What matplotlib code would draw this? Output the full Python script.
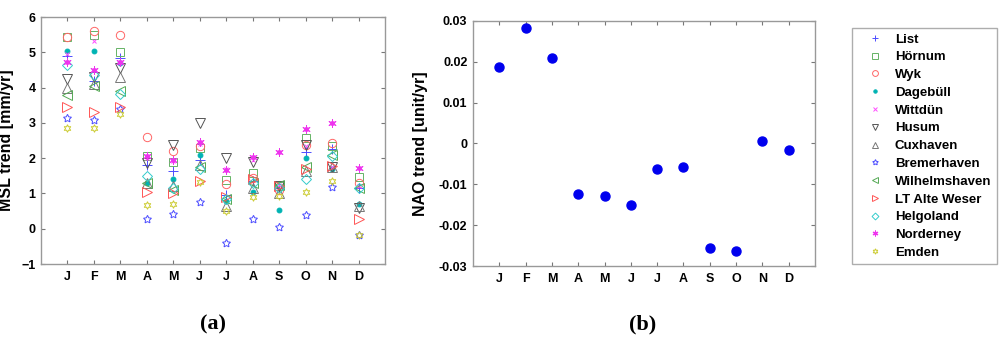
import numpy as np
import matplotlib.pyplot as plt
from matplotlib.legend_handler import HandlerTuple

plt.rcParams['font.family'] = ['Liberation Sans', 'DejaVu Sans']
plt.rcParams['font.weight'] = 'bold'

months = ['J', 'F', 'M', 'A', 'M', 'J', 'J', 'A', 'S', 'O', 'N', 'D']
x = np.arange(1, 13)

# MSL trends per station [mm/yr]
msl_list = [4.9, 4.2, 4.85, 1.8, 1.64, 1.95, 0.95, 1.35, 1.15, 2.18, 2.25, 1.15]
msl_hoernum = [5.45, 5.5, 5.02, 2.05, 1.9, 2.3, 1.38, 1.59, 1.2, 2.56, 2.35, 1.47]
msl_wyk = [5.45, 5.62, 5.5, 2.59, 2.21, 2.35, 1.27, 1.43, 1.1, 2.38, 2.42, 1.29]
msl_dagebuell = [5.05, 5.05, 4.7, 1.3, 1.4, 2.1, 0.8, 1.05, 0.53, 2.01, 1.68, 0.69]
msl_wittduen = [4.95, 5.33, 4.7, 2.0, 1.92, 2.4, 1.7, 1.95, 1.25, 2.35, 1.75, 1.2]
msl_husum = [4.25, 4.3, 4.55, 1.85, 2.37, 3.0, 2.0, 1.88, 1.2, 2.37, 1.75, 0.58]
msl_cuxhaven = [4.0, 4.1, 4.3, 1.3, 1.2, 1.8, 0.64, 1.15, 1.0, 1.65, 1.75, 0.65]
msl_bremerhaven = [3.15, 3.08, 3.4, 0.29, 0.41, 0.77, -0.41, 0.29, 0.04, 0.39, 1.17, -0.18]
msl_wilhelmshaven = [3.8, 4.05, 3.9, 1.3, 1.1, 1.75, 0.85, 1.3, 1.25, 1.76, 2.09, 1.15]
msl_ltaltewester = [3.45, 3.3, 3.45, 1.05, 1.0, 1.35, 0.9, 1.4, 1.2, 1.7, 1.78, 0.29]
msl_helgoland = [4.65, 4.35, 3.82, 1.5, 1.15, 1.7, 0.85, 1.3, 1.15, 1.4, 2.05, 1.15]
msl_norderney = [4.72, 4.5, 4.72, 2.05, 1.95, 2.47, 1.66, 2.04, 2.18, 2.84, 3.0, 1.71]
msl_emden = [2.87, 2.87, 3.25, 0.67, 0.7, 1.33, 0.5, 0.91, 0.92, 1.05, 1.35, -0.18]

# NAO trend [unit/yr], panel (b)
nao = [0.0188, 0.0283, 0.021, -0.0123, -0.0128, -0.015,
       -0.0063, -0.0058, -0.0255, -0.0262, 0.0007, -0.0015]

stations = ['List', 'Hörnum', 'Wyk', 'Dagebüll', 'Wittdün', 'Husum', 'Cuxhaven',
            'Bremerhaven', 'Wilhelmshaven', 'LT Alte Weser', 'Helgoland',
            'Norderney', 'Emden']
series = [msl_list, msl_hoernum, msl_wyk, msl_dagebuell, msl_wittduen, msl_husum,
          msl_cuxhaven, msl_bremerhaven, msl_wilhelmshaven, msl_ltaltewester,
          msl_helgoland, msl_norderney, msl_emden]

# marker, color, size, filled
styles = [
    ('+', '#4d4dff', 7, False),
    ('s', '#66b366', 6, False),
    ('o', '#ff6666', 6, False),
    ('o', '#00b3b3', 3.5, True),
    ('x', '#ff4dff', 3.5, False),
    ('v', '#555555', 7, False),
    ('^', '#777777', 7, False),
    ((5, 1, 0), '#4d4dff', 6, False),
    ('<', '#55aa55', 7, False),
    ('>', '#ff5555', 7, False),
    ('D', '#33cccc', 5, False),
    ((6, 2, 0), '#ee33ee', 6, False),
    ((6, 1, 0), '#cccc33', 5.5, False),
]

fig = plt.figure(figsize=(10, 3.42), dpi=100)
ax1 = fig.add_axes([0.041, 0.228, 0.344, 0.722])
ax2 = fig.add_axes([0.473, 0.222, 0.342, 0.717])

handles = []
for name, vals, (m, c, s, filled) in zip(stations, series, styles):
    h, = ax1.plot(x, vals, linestyle='none', marker=m, color=c, markersize=s,
                  markerfacecolor=c if filled else 'none', markeredgewidth=0.7)
    if name == 'Norderney':
        d, = ax1.plot(x, vals, linestyle='none', marker='o', color=c, markersize=2.5)
        handles.append((h, d))
    else:
        handles.append(h)

ax2.plot(x, nao, linestyle='none', marker='o', color='#0000ee', markersize=6.5)

for ax in (ax1, ax2):
    ax.set_xlim(0, 13)
    ax.set_xticks(x)
    ax.set_xticklabels(months)
    ax.tick_params(direction='in', top=True, right=True, length=3, width=0.8,
                   color='#777777', labelsize=9)
    ax.tick_params(axis='x', pad=5)
    ax.tick_params(axis='y', pad=4)
    for sp in ax.spines.values():
        sp.set_color('#999999')
        sp.set_linewidth(1.0)

ax1.set_ylim(-1, 6)
ax1.set_yticks(range(-1, 7))
ax1.set_ylabel('MSL trend [mm/yr]', fontsize=11.5, fontweight='bold')
ax1.yaxis.set_label_coords(-0.078, 0.5)

ax2.set_ylim(-0.03, 0.03)
ax2.set_yticks([-0.03, -0.02, -0.01, 0, 0.01, 0.02, 0.03])
ax2.set_yticklabels(['-0.03', '-0.02', '-0.01', '0', '0.01', '0.02', '0.03'])
ax2.set_ylabel('NAO trend [unit/yr]', fontsize=11.5, fontweight='bold')
ax2.yaxis.set_label_coords(-0.132, 0.5)

for ax in (ax1, ax2):
    for lab in ax.get_xticklabels() + ax.get_yticklabels():
        lab.set_fontweight('bold')

leg = fig.legend(handles, stations, loc='upper left', bbox_to_anchor=(0.852, 0.918),
                 handler_map={tuple: HandlerTuple(ndivide=1, pad=0)},
                 frameon=True, fancybox=False, handlelength=2.7, markerscale=0.7,
                 handletextpad=0.15, labelspacing=0.42, borderpad=0.4,
                 borderaxespad=0, prop={'weight': 'bold', 'size': 9.5})
leg.get_frame().set_edgecolor('#999999')
leg.get_frame().set_linewidth(1.0)

fig.text(0.213, 0.05, '(a)', ha='center', va='center', fontsize=16,
         fontweight='bold', family='Liberation Serif')
fig.text(0.643, 0.05, '(b)', ha='center', va='center', fontsize=16,
         fontweight='bold', family='Liberation Serif')

fig.savefig('out.png', dpi=100)
